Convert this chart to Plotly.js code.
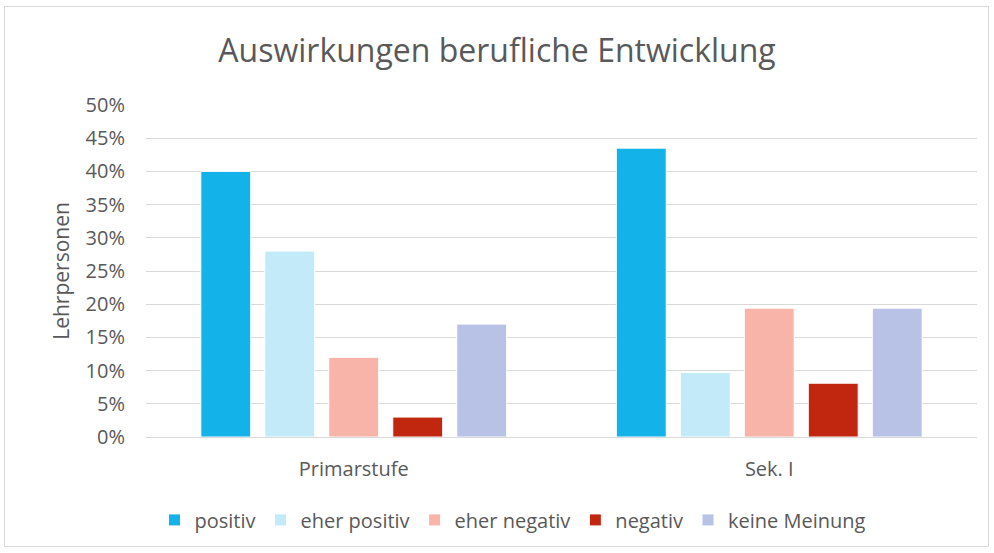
<!DOCTYPE html>
<html><head><meta charset="utf-8">
<script src="https://cdn.plot.ly/plotly-3.0.1.min.js"></script>
<style>html,body{margin:0;padding:0;background:#fff}#chart{width:994px;height:553px}
#frame{position:absolute;left:4px;top:6px;width:985px;height:541px;border:1px solid #d9d9d9;pointer-events:none;box-sizing:border-box}</style>
</head><body>
<div id="chart"></div><div id="frame"></div>
<script>
const categories = ["Primarstufe", "Sek. I"];
const seriesNames = ["positiv", "eher positiv", "eher negativ", "negativ", "keine Meinung"];
const positiv = [40.0, 43.5];
const eherPositiv = [28.0, 9.7];
const eherNegativ = [12.0, 19.4];
const negativ = [3.0, 8.1];
const keineMeinung = [17.0, 19.4];
const colors = ["#13b2e8", "#c2eaf9", "#f8b4a8", "#c1260e", "#b8c2e6"];
const yTickVals = [0, 5, 10, 15, 20, 25, 30, 35, 40, 45, 50];
const yTickText = ["0%", "5%", "10%", "15%", "20%", "25%", "30%", "35%", "40%", "45%", "50%"];

const values = [positiv, eherPositiv, eherNegativ, negativ, keineMeinung];
const font = "Open Sans, sans-serif";
const traces = values.map((v, i) => ({
  type: "bar", x: categories, y: v, name: seriesNames[i],
  marker: {color: colors[i], line: {color: "#ffffff", width: 1}},
  hoverinfo: "skip"
}));

const layout = {
  width: 994, height: 553,
  paper_bgcolor: "#ffffff", plot_bgcolor: "#ffffff",
  margin: {l: 146, r: 17, t: 105, b: 116},
  title: {text: "Auswirkungen berufliche Entwicklung", font: {family: font, size: 32, color: "#595959"},
          x: 0.5, xanchor: "center", y: 0.909, yanchor: "middle"},
  barmode: "group", bargap: 0.23, bargroupgap: 0.22,
  xaxis: {tickfont: {family: font, size: 20, color: "#595959"}, showline: true, linecolor: "#d9d9d9",
          linewidth: 1, ticks: "", showgrid: false, ticklabelstandoff: 14},
  yaxis: {range: [0, 50], tickvals: yTickVals, ticktext: yTickText,
          tickfont: {family: font, size: 20, color: "#595959"}, gridcolor: "#d9d9d9", gridwidth: 1,
          zeroline: false, ticks: "", ticklen: 0, ticklabelstandoff: 20,
          title: {text: "Lehrpersonen", font: {family: font, size: 21, color: "#595959"}, standoff: 10}},
  legend: {orientation: "h", x: 0.4416, xanchor: "center", y: -0.191, yanchor: "top",
           font: {family: font, size: 20, color: "#595959"}, itemwidth: 30, traceorder: "normal"},
  showlegend: true
};
Plotly.newPlot("chart", traces, layout, {displayModeBar: false, staticPlot: true});
</script>
</body></html>
